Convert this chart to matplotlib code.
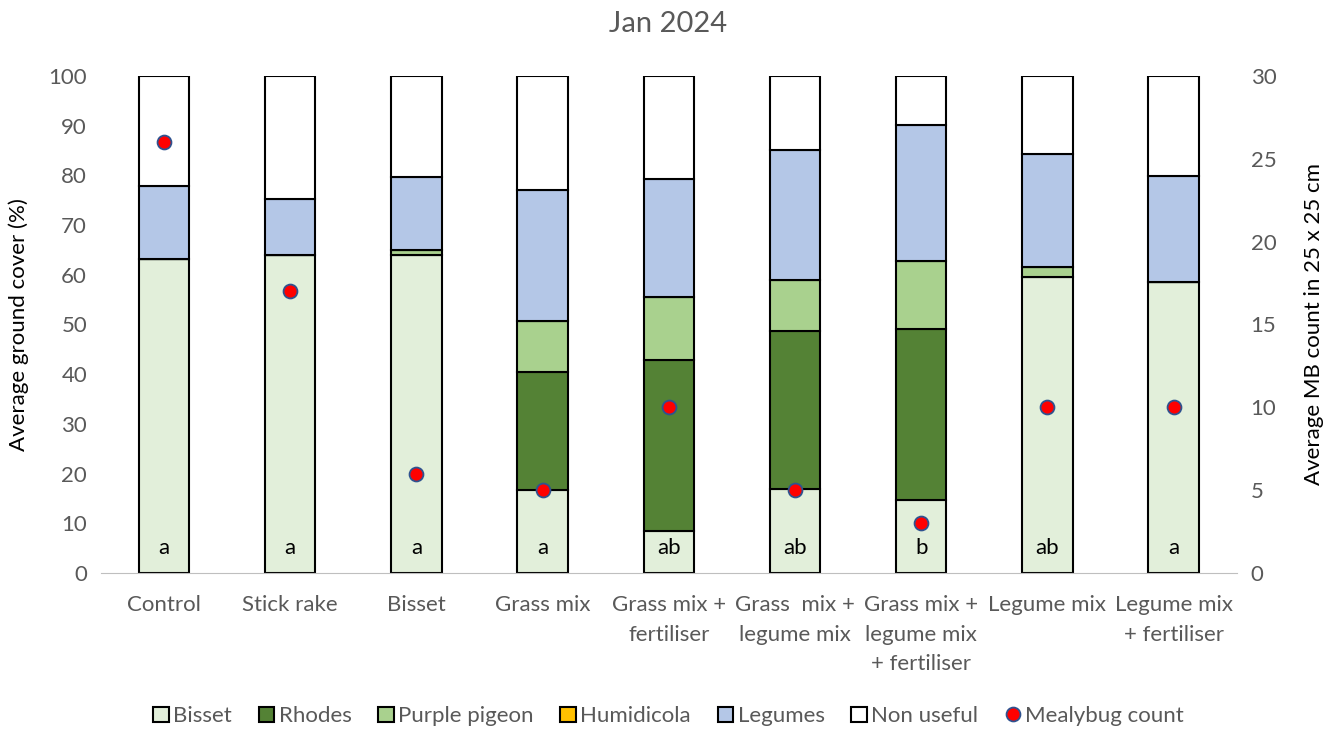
import numpy as np
import matplotlib.pyplot as plt

plt.rcParams['font.family'] = ['Lato', 'DejaVu Sans']

treatments = ['Control', 'Stick rake', 'Bisset', 'Grass mix', 'Grass mix +\nfertiliser',
              'Grass  mix +\nlegume mix', 'Grass mix +\nlegume mix\n+ fertiliser',
              'Legume mix', 'Legume mix\n+ fertiliser']

# ground cover (%) per component
bisset = [63.1, 64.0, 64.0, 16.7, 8.5, 16.9, 14.7, 59.6, 58.6]
rhodes = [0, 0, 0, 23.7, 34.4, 31.8, 34.4, 0, 0]
purple_pigeon = [0, 0, 1.0, 10.4, 12.6, 10.3, 13.6, 1.9, 0]
humidicola = [0, 0, 0, 0, 0, 0, 0, 0, 0]
legumes = [14.8, 11.3, 14.7, 26.2, 23.8, 26.1, 27.5, 22.8, 21.3]
non_useful = [22.1, 24.7, 20.3, 23.0, 20.7, 14.9, 9.8, 15.7, 20.1]

mealybug = [26, 17, 6, 5, 10, 5, 3, 10, 10]
letters = ['a', 'a', 'a', 'a', 'ab', 'ab', 'b', 'ab', 'a']

series = [('Bisset', bisset, '#E2EFDA'),
          ('Rhodes', rhodes, '#548235'),
          ('Purple pigeon', purple_pigeon, '#A9D18E'),
          ('Humidicola', humidicola, '#FFC000'),
          ('Legumes', legumes, '#B4C7E7'),
          ('Non useful', non_useful, '#FFFFFF')]

grey = '#595959'
fs = 16
fig = plt.figure(figsize=(13.37, 7.33), dpi=100)
ax = fig.add_axes([0.0755, 0.2183, 0.8495, 0.678])
x = np.arange(len(treatments))
bottom = np.zeros(len(treatments))
for name, vals, col in series:
    ax.bar(x, vals, 0.4, bottom=bottom, color=col, edgecolor='black', linewidth=1.5,
           label=name, zorder=2)
    bottom += np.array(vals)

for xi, t in zip(x, letters):
    ax.text(xi, 5, t, ha='center', va='center', fontsize=fs, color='black', zorder=3)

ax.set_xlim(-0.5, len(treatments) - 0.5)
ax.set_ylim(0, 100)
ax.set_yticks(range(0, 101, 10))
ax.set_xticks(x)
ax.set_xticklabels(treatments, fontsize=fs, color=grey, linespacing=1.6)
ax.tick_params(axis='y', labelsize=fs, colors=grey, length=0, pad=10)
ax.tick_params(axis='x', length=0, pad=16)
for s in ['top', 'left', 'right']:
    ax.spines[s].set_visible(False)
ax.spines['bottom'].set_color('#BFBFBF')
ax.set_ylabel('Average ground cover (%)', fontsize=fs, color='black', labelpad=14)

ax2 = ax.twinx()
ax2.plot(x, mealybug, 'o', color='#FF0000', markeredgecolor='#2F528F', markeredgewidth=1.3,
         markersize=10, label='Mealybug count', zorder=5)
ax2.set_ylim(0, 30)
ax2.set_yticks(range(0, 31, 5))
ax2.tick_params(axis='y', labelsize=fs, colors=grey, length=0, pad=10)
for s in ['top', 'left', 'right', 'bottom']:
    ax2.spines[s].set_visible(False)
ax2.set_ylabel('Average MB count in 25 x 25 cm', fontsize=fs, color='black', rotation=90,
               labelpad=20)

fig.suptitle('Jan 2024', y=0.985, fontsize=21, color=grey)

h1, l1 = ax.get_legend_handles_labels()
h2, l2 = ax2.get_legend_handles_labels()
fig.legend(h1 + h2, l1 + l2, loc='center', bbox_to_anchor=(0.5, 0.023), ncol=7,
           frameon=False, fontsize=fs, handlelength=0.7, handleheight=0.7,
           handletextpad=0.2, columnspacing=1.2, labelcolor=grey)

fig.savefig('out.png', dpi=100)
